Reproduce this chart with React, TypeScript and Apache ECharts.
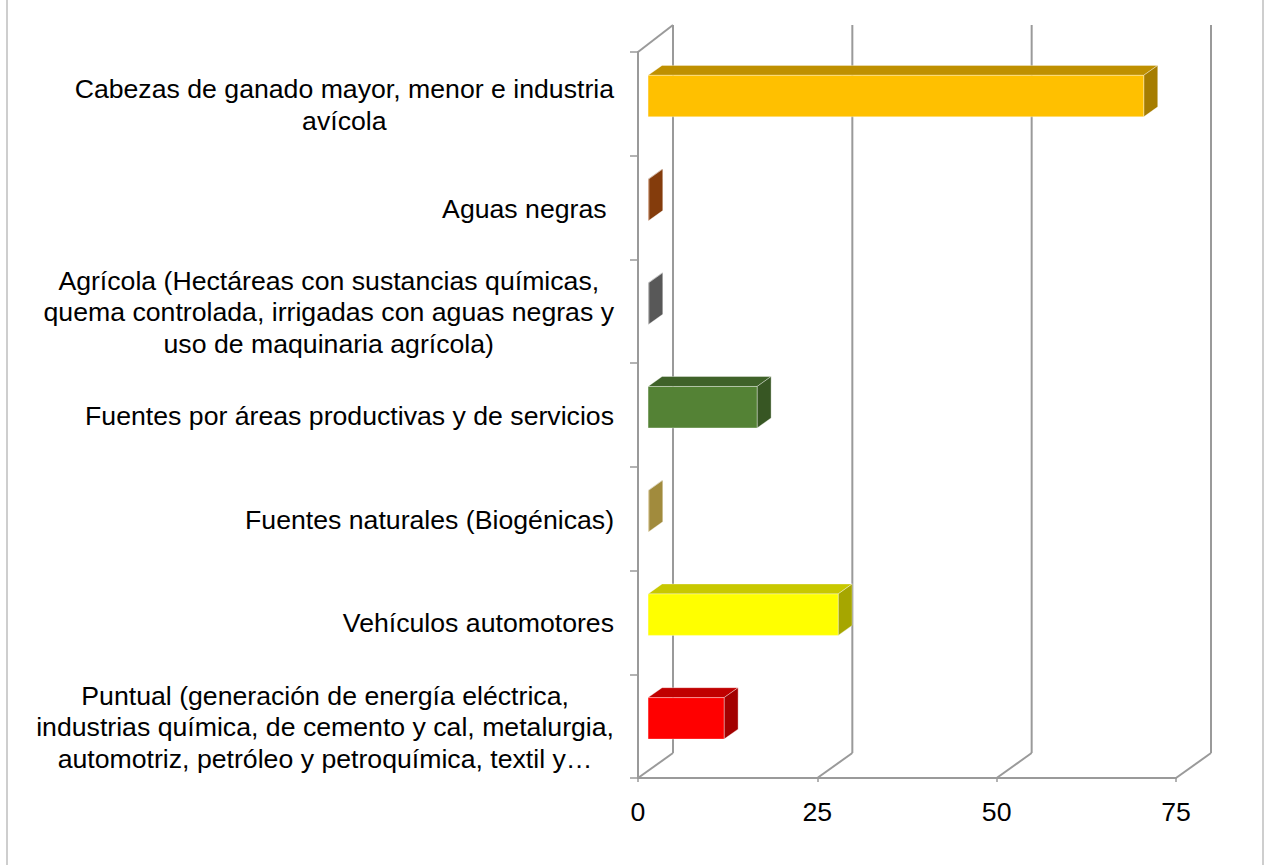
import React, { useEffect, useRef } from 'react';
import * as echarts from 'echarts';

const categories = [
  'Cabezas de ganado mayor, menor e industria\navícola',
  'Aguas negras ',
  'Agrícola (Hectáreas con sustancias químicas,\nquema controlada, irrigadas con aguas negras y\nuso de maquinaria agrícola)',
  'Fuentes por áreas productivas y de servicios',
  'Fuentes naturales (Biogénicas)',
  'Vehículos automotores',
  'Puntual (generación de energía eléctrica,\nindustrias química, de cemento y cal, metalurgia,\nautomotriz, petróleo y petroquímica, textil y…',
];
const values = [69.1, 0.1, 0.1, 15.2, 0.1, 26.5, 10.6];
const xTicks = [0, 25, 50, 75];

const frontColors = ['#FFC000', '#A5470F', '#6E6E6E', '#548235', '#BFA24E', '#FFFF00', '#FF0000'];
const topColors = ['#BF9000', '#7A360B', '#4A4A4A', '#3F6229', '#8F7A3A', '#C8C800', '#C00000'];
const sideColors = ['#A67D00', '#843C0C', '#585858', '#375623', '#A18B3D', '#A6A600', '#A30000'];

const FONT = '"Liberation Sans", Arial, Helvetica, sans-serif';
const GRAY = '#9A9A9A';

export default function App() {
  const ref = useRef<HTMLDivElement>(null);
  useEffect(() => {
    if (!ref.current) return;
    const chart = echarts.init(ref.current, undefined, { renderer: 'svg' });
    const option: any = {
      animation: false,
      backgroundColor: '#ffffff',
      textStyle: { fontFamily: FONT },
      graphic: [
        {
          type: 'rect',
          shape: { x: 7, y: -10, width: 1256, height: 900 },
          style: { fill: 'none', stroke: '#BFBFBF', lineWidth: 1.5 },
          silent: true,
        },
      ],
      grid: { left: 638, right: 91, top: 52, bottom: 87, containLabel: false },
      xAxis: {
        type: 'value',
        min: 0,
        max: 75,
        interval: 25,
        axisLine: { show: true, lineStyle: { color: GRAY, width: 2 } },
        axisTick: { show: true, length: 4, lineStyle: { color: GRAY, width: 1.5 } },
        splitLine: { show: false },
        axisLabel: { color: '#000', fontSize: 26.67, fontFamily: FONT, margin: 20 },
      },
      yAxis: {
        type: 'category',
        inverse: true,
        data: categories,
        axisLine: { show: true, lineStyle: { color: GRAY, width: 2 } },
        axisTick: { show: true, length: 8, lineStyle: { color: GRAY, width: 1.5 } },
        splitLine: { show: false },
        axisLabel: {
          margin: 24,
          align: 'right',
          formatter: (val: string) =>
            val
              .split('\n')
              .map((l) => `{c|${l}}`)
              .join('\n'),
          rich: {
            c: { align: 'center', fontSize: 26.67, lineHeight: 31.5, color: '#000', fontFamily: FONT, padding: [2, 0, 0, 0] },
          },
        },
      },
      series: [
        {
          type: 'custom',
          name: 'frame',
          z: 1,
          silent: true,
          clip: false,
          encode: { x: 0, y: 1 },
          data: xTicks.map((t) => [t, 0]),
          renderItem: (params: any, api: any) => {
            const cs = params.coordSys;
            const t = api.value(0);
            const x = api.coord([t, 0])[0];
            const bottom = cs.y + cs.height;
            const top = cs.y;
            const style = { stroke: GRAY, lineWidth: 2, fill: 'none' };
            const children: any[] = [
              { type: 'line', shape: { x1: x, y1: bottom, x2: x + 35, y2: bottom - 25 }, style },
              { type: 'line', shape: { x1: x + 35, y1: bottom - 25, x2: x + 35, y2: top - 27 }, style },
            ];
            if (t === 0) {
              children.push({ type: 'line', shape: { x1: x, y1: top, x2: x + 35, y2: top - 27 }, style });
            }
            return { type: 'group', children };
          },
        },
        {
          type: 'custom',
          name: 'bars',
          z: 5,
          clip: false,
          encode: { x: 0, y: 1 },
          data: values.map((v, i) => [v, i]),
          renderItem: (params: any, api: any) => {
            const i = api.value(1);
            const v = api.value(0);
            const start = api.coord([0, i]);
            const end = api.coord([v, i]);
            const band = api.size([0, 1])[1];
            const ox = band * 0.097;
            const oy = band * 0.075;
            const h = band * 0.4;
            const dx = band * 0.135;
            const dy = band * 0.096;
            const xl = start[0] + ox;
            const xr = end[0] + ox;
            const yt = start[1] - oy - h / 2;
            const yb = yt + h;
            const edge = 'rgba(255,255,255,0.45)';
            return {
              type: 'group',
              children: [
                {
                  type: 'polygon',
                  shape: { points: [[xl, yt], [xr, yt], [xr + dx, yt - dy], [xl + dx, yt - dy]] },
                  style: { fill: topColors[i], stroke: edge, lineWidth: 0.8 },
                },
                {
                  type: 'polygon',
                  shape: { points: [[xr, yt], [xr + dx, yt - dy], [xr + dx, yb - dy], [xr, yb]] },
                  style: { fill: sideColors[i], stroke: edge, lineWidth: 0.8 },
                },
                {
                  type: 'rect',
                  shape: { x: xl, y: yt, width: Math.max(xr - xl, 0), height: h },
                  style: { fill: frontColors[i], stroke: edge, lineWidth: 0.8 },
                },
              ],
            };
          },
        },
      ],
    };
    chart.setOption(option);
    return () => chart.dispose();
  }, []);
  return (
    <div
      ref={ref}
      style={{ position: 'fixed', left: 0, top: 0, width: 1267, height: 865, background: '#fff' }}
    />
  );
}
